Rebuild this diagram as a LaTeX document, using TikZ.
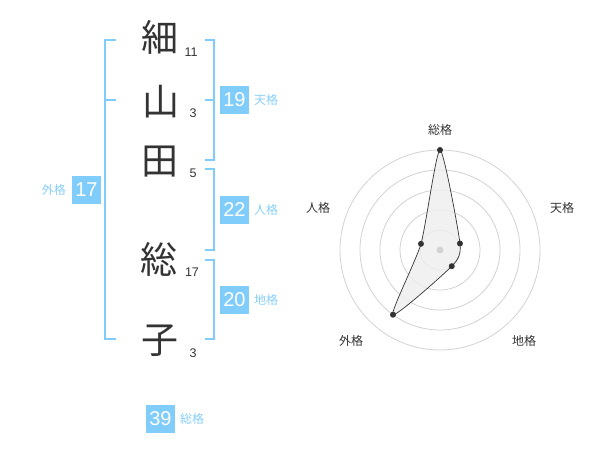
\documentclass[tikz,border=0pt]{standalone}
\usepackage{fontspec}
\setmainfont{Liberation Sans}
\newfontfamily\cjk{Noto Sans CJK JP}
\definecolor{boxblue}{RGB}{128,204,250}
\definecolor{lblblue}{RGB}{135,206,250}
\definecolor{ink}{RGB}{51,51,51}
\definecolor{ringgray}{RGB}{210,210,210}
\definecolor{areagray}{RGB}{238,238,238}
\begin{document}
\begin{tikzpicture}[x=1pt,y=-1pt,
  kanji/.style={font=\cjk\fontsize{37}{40}\selectfont, text=ink, inner sep=0pt},
  stroke/.style={font=\fontsize{12.5}{14}\selectfont, text=ink, inner sep=0pt},
  numbox/.style={fill=boxblue, text=white, minimum width=29pt, minimum height=28pt, inner sep=0pt, font=\fontsize{20}{22}\selectfont},
  kaku/.style={font=\cjk\fontsize{12}{14}\selectfont, text=lblblue, inner sep=0pt},
  bracket/.style={draw=boxblue, line width=1.6pt},
  ring/.style={draw=ringgray, line width=0.8pt},
  axlbl/.style={font=\cjk\fontsize{12}{14}\selectfont, text=ink, inner sep=0pt},
  dot/.style={circle, fill=ink, inner sep=0pt, minimum size=6pt}
]
\useasboundingbox (0,0) rectangle (600,470);
% characters
\node[kanji] (k1) at (160,37) {細};
\node[kanji] (k2) at (161,102) {山};
\node[kanji] (k3) at (160,162) {田};
\node[kanji] (k4) at (159,259) {総};
\node[kanji] (k5) at (160,341) {子};
\node[stroke] (n1) at (191,52) {11};
\node[stroke] (n2) at (193,113) {3};
\node[stroke] (n3) at (193,173) {5};
\node[stroke] (n4) at (192,272) {17};
\node[stroke] (n5) at (193,353) {3};
% left bracket (外格)
\coordinate (La) at (116,40);
\coordinate (Lb) at (116,100);
\coordinate (Lc) at (116,339);
\draw[bracket] (La) -- (105,40) -- (105,339) -- (Lc);
\draw[bracket] (Lb) -- (105,100);
% right brackets
\coordinate (Ta) at (205,40);
\coordinate (Tb) at (205,160);
\coordinate (Tm) at (205,100);
\draw[bracket] (Ta) -- (214,40) -- (214,160) -- (Tb);
\draw[bracket] (Tm) -- (214,100);
\coordinate (Ja) at (205,169);
\coordinate (Jb) at (205,250);
\draw[bracket] (Ja) -- (214,169) -- (214,250) -- (Jb);
\coordinate (Ca) at (205,260);
\coordinate (Cb) at (205,339);
\draw[bracket] (Ca) -- (214,260) -- (214,339) -- (Cb);
% boxes
\node[numbox] (b19) at (234.5,100) {19};
\node[kaku, anchor=west] (l19) at (254,100) {天格};
\node[numbox] (b22) at (234.5,210) {22};
\node[kaku, anchor=west] (l22) at (254,210) {人格};
\node[numbox] (b20) at (234.5,300) {20};
\node[kaku, anchor=west] (l20) at (254,300) {地格};
\node[numbox] (b17) at (86.5,190) {17};
\node[kaku, anchor=east] (l17) at (66,190) {外格};
\node[numbox] (b39) at (160.5,419) {39};
\node[kaku, anchor=west] (l39) at (180,419) {総格};
% radar
\coordinate (O) at (440,250);
\foreach \r in {20,40,60,80,100} \draw[ring] (O) circle[radius=\r];
\coordinate (pS) at ([shift={(440,250)}]-90:100);
\coordinate (pT) at ([shift={(440,250)}]-18:21);
\coordinate (pC) at ([shift={(440,250)}]54:20);
\coordinate (pG) at ([shift={(440,250)}]126:80);
\coordinate (pJ) at ([shift={(440,250)}]-162:20);
\filldraw[fill=areagray, fill opacity=0.8, draw=ink, line width=0.7pt]
  plot[smooth cycle, tension=0.35] coordinates {(pS) (pT) (pC) (pG) (pJ)};
\fill[ringgray] (O) circle[radius=3.5];
\foreach \p in {pS,pT,pC,pG,pJ} \node[dot] at (\p) {};
\node[axlbl] (aS) at (440,130) {総格};
\node[axlbl] (aT) at (562,208) {天格};
\node[axlbl] (aC) at (524,341) {地格};
\node[axlbl] (aG) at (351,341) {外格};
\node[axlbl] (aJ) at (318,208) {人格};
\end{tikzpicture}
\end{document}
